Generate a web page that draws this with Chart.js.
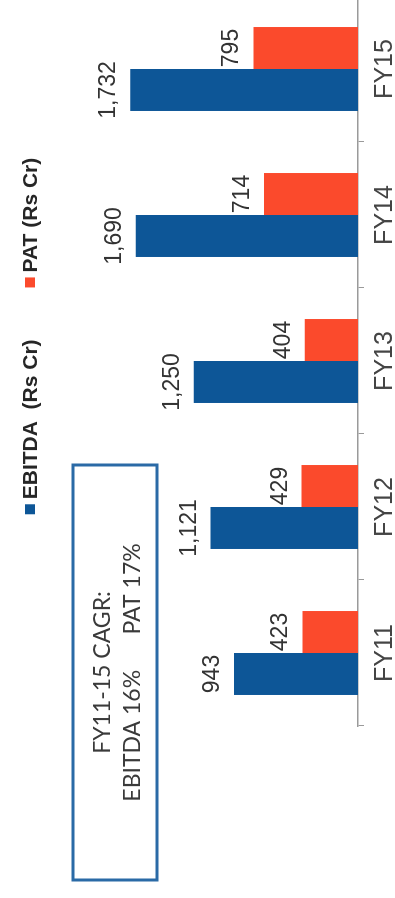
<!DOCTYPE html>
<html>
<head>
<meta charset="utf-8">
<script src="https://cdn.jsdelivr.net/npm/chart.js@4.4.1/dist/chart.umd.min.js"></script>
<style>
  html, body { margin: 0; padding: 0; background: #ffffff; overflow: hidden; }
  body { width: 395px; height: 898px; position: relative; }
  /* The chart is laid out landscape and turned a quarter-turn counter-clockwise */
  #frame {
    position: absolute; left: 0; top: 0;
    width: 898px; height: 395px; overflow: hidden;
    transform-origin: 0 0;
    transform: translate(0, 898px) rotate(-90deg);
    background: #ffffff;
  }
  #chart { display: block; }
</style>
</head>
<body>
<div id="frame"><canvas id="chart" width="910" height="430"></canvas></div>
<script>
// Fiscal years and series (Rs Cr)
const years = ['FY11', 'FY12', 'FY13', 'FY14', 'FY15'];
const ebitda = [943, 1121, 1250, 1690, 1732];
const pat = [423, 429, 404, 714, 795];
const seriesNames = ['EBITDA  (Rs Cr)', 'PAT (Rs Cr)'];
const cagrTitle = 'FY11-15 CAGR:';
const cagrLine = 'EBITDA 16%      PAT 17%';

const BLUE = '#0d5697';
const RED = '#fb4a2c';
const SANS = '"Liberation Sans", Arial, sans-serif';

// Value labels above each bar
const valueLabels = {
  id: 'valueLabels',
  afterDatasetsDraw(chart) {
    const ctx = chart.ctx;
    ctx.save();
    ctx.font = '23px ' + SANS;
    ctx.fillStyle = '#333333';
    ctx.textAlign = 'center';
    ctx.textBaseline = 'alphabetic';
    chart.data.datasets.forEach((ds, i) => {
      chart.getDatasetMeta(i).data.forEach((bar, j) => {
        ctx.fillText(ds.data[j].toLocaleString('en-US'), bar.x, bar.y - 15);
      });
    });
    ctx.restore();
  }
};

// Legend row drawn from the dataset names and colours
const legendRow = {
  id: 'legendRow',
  afterDraw(chart) {
    const ctx = chart.ctx;
    ctx.save();
    ctx.font = 'bold 21px ' + SANS;
    ctx.textBaseline = 'middle';
    const box = 10, gap = 5, itemGap = 52, cy = 30, center = 562;
    const widths = chart.data.datasets.map(ds => ctx.measureText(ds.label).width);
    let total = 0;
    widths.forEach((w, i) => { total += box + gap + w + (i ? itemGap : 0); });
    let x = center - total / 2;
    chart.data.datasets.forEach((ds, i) => {
      if (i) x += itemGap;
      ctx.fillStyle = ds.backgroundColor;
      ctx.fillRect(x, cy - box / 2, box, box);
      x += box + gap;
      ctx.fillStyle = '#262626';
      ctx.textAlign = 'left';
      ctx.fillText(ds.label, x, cy + 1);
      x += widths[i];
    });
    ctx.restore();
  }
};

// Growth note box in the upper-left corner
const cagrNote = {
  id: 'cagrNote',
  afterDraw(chart) {
    const ctx = chart.ctx;
    const x0 = 18, y0 = 73, w = 415, h = 84;
    ctx.save();
    ctx.fillStyle = '#ffffff';
    ctx.fillRect(x0, y0, w, h);
    ctx.strokeStyle = '#2a6aa6';
    ctx.lineWidth = 3;
    ctx.strokeRect(x0, y0, w, h);
    ctx.fillStyle = '#3a3a3a';
    ctx.font = '23px Lato, "Open Sans", sans-serif';
    ctx.textAlign = 'center';
    ctx.textBaseline = 'middle';
    ctx.fillText(cagrTitle, x0 + w / 2, 103);
    ctx.fillText(cagrLine, x0 + w / 2, 133);
    ctx.restore();
  }
};

new Chart(document.getElementById('chart'), {
  type: 'bar',
  data: {
    labels: years,
    datasets: [
      { label: seriesNames[0], data: ebitda, backgroundColor: BLUE },
      { label: seriesNames[1], data: pat, backgroundColor: RED }
    ]
  },
  options: {
    responsive: false,
    animation: false,
    events: [],
    layout: { padding: { left: 172, right: 8, top: 95, bottom: 0 } },
    datasets: { bar: { categoryPercentage: 0.575, barPercentage: 1.0 } },
    plugins: { legend: { display: false }, tooltip: { enabled: false } },
    scales: {
      x: {
        grid: { display: true, drawOnChartArea: false, drawTicks: true, tickLength: 6, color: '#9a9a9a', offset: true },
        border: { display: true, color: '#9a9a9a', width: 1.5 },
        ticks: { font: { family: SANS, size: 25 }, color: '#444444', padding: 6 },
        afterFit(scale) { scale.height = 72; }
      },
      y: { display: false, min: 0, max: 2000 }
    }
  },
  plugins: [valueLabels, legendRow, cagrNote]
});
</script>
</body>
</html>
